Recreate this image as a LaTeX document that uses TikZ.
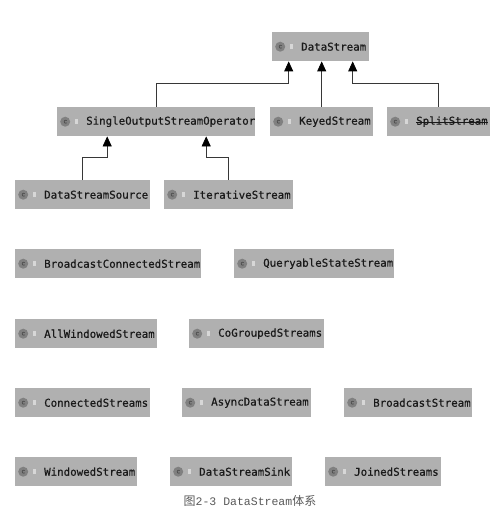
\documentclass[tikz,border=0pt]{standalone}
\usepackage{fontspec}
\newfontfamily\namefont[RawFeature={embolden=0.5}]{DejaVu Sans Mono}
\newfontfamily\captionlatin{Liberation Mono}
\newfontfamily\cjk{Noto Sans CJK SC}
\usetikzlibrary{positioning,arrows.meta}
\definecolor{boxgray}{RGB}{176,176,176}
\definecolor{icongray}{RGB}{128,128,128}
\definecolor{markgray}{RGB}{215,215,215}
\definecolor{namegray}{RGB}{25,25,25}
\definecolor{linegray}{RGB}{55,55,55}
\tikzset{
  classbox/.style={fill=boxgray,anchor=north west,inner sep=0pt,minimum height=29pt},
  classicon/.style={circle,fill=icongray,inner sep=0pt,minimum size=10pt,text=black!70,font=\namefont\fontsize{6}{6}\selectfont},
  classmark/.style={fill=markgray,inner sep=0pt,minimum width=3pt,minimum height=5pt},
  classname/.style={inner sep=0pt,text=namegray,font=\namefont\fontsize{10.8}{12}\selectfont},
  extends/.style={draw=linegray,line width=.8pt,-{Triangle[length=10pt,width=9pt,color=black]}}
}
\newcommand{\classnode}[5]{
  \node[classbox,minimum width=#4pt] (#1) at (#2,#3) {};
  \node[classicon,right=3pt of #1.west] (#1-icon) {c};
  \node[classmark,right=17.5pt of #1.west] (#1-mark) {};
  \node[classname,right=29pt of #1.west] (#1-name) {#5};
}
\begin{document}
\begin{tikzpicture}[x=1pt,y=-1pt]
\useasboundingbox (0,0) rectangle (501,508);

% top of the hierarchy
\classnode{data}{272}{32}{97}{DataStream}
\classnode{single}{57}{107}{198}{SingleOutputStreamOperator}
\classnode{keyed}{270}{107}{103}{KeyedStream}
\classnode{split}{387}{107}{103}{SplitStream}
\classnode{source}{15}{180}{135}{DataStreamSource}
\classnode{iterative}{164}{180}{129}{IterativeStream}

% classes without a connector
\classnode{connected}{15}{249}{186}{BroadcastConnectedStream}
\classnode{queryable}{234}{249}{160}{QueryableStateStream}
\classnode{allwindowed}{15}{319}{142}{AllWindowedStream}
\classnode{cogrouped}{189}{319}{135}{CoGroupedStreams}
\classnode{connstreams}{15}{388}{135}{ConnectedStreams}
\classnode{async}{182}{388}{129}{AsyncDataStream}
\classnode{broadcast}{344}{388}{128}{BroadcastStream}
\classnode{windowed}{15}{457}{122}{WindowedStream}
\classnode{sink}{170}{457}{122}{DataStreamSink}
\classnode{joined}{325}{457}{116}{JoinedStreams}

% SplitStream is struck through
\draw[namegray,line width=.8pt] ([yshift=-.5pt]split-name.west) -- ([yshift=-.5pt]split-name.east);

% inheritance arrows
\draw[extends] (single.north) -- ++(0,-24) -| ([xshift=-32pt]data.south);
\draw[extends] (keyed.north) -- (keyed.north |- data.south);
\draw[extends] (split.north) -- ++(0,-24) -| ([xshift=32pt]data.south);
\draw[extends] (source.north) -- ++(0,-23) -| ([xshift=-49pt]single.south);
\draw[extends] (iterative.north) -- ++(0,-23) -| ([xshift=50pt]single.south);

\node[inner sep=0pt,text=black!65] (caption) at (250,501) {{\cjk\fontsize{12}{12}\selectfont 图}{\captionlatin\fontsize{11.5}{12}\selectfont 2-3 DataStream}{\cjk\fontsize{12}{12}\selectfont 体系}};

\end{tikzpicture}
\end{document}
